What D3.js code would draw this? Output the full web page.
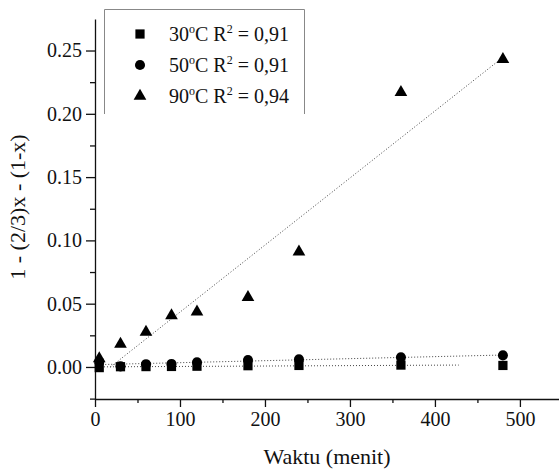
<!DOCTYPE html>
<html><head><meta charset="utf-8">
<script src="https://cdn.jsdelivr.net/npm/d3@7"></script>
<style>body{margin:0;background:#fff}svg{display:block}svg text{font-family:"Liberation Serif","Times New Roman",Times,serif}</style>
</head><body>
<script>
const times = [5, 30, 60, 90, 120, 180, 240, 360, 480];
const s30 = [-0.0005, 0.0002, 0.0003, 0.0004, 0.0006, 0.0010, 0.0012, 0.0015, 0.0012];
const s50 = [0.0040, 0.0005, 0.0022, 0.0024, 0.0037, 0.0055, 0.0060, 0.0076, 0.0092];
const s90 = [0.0066, 0.0180, 0.0275, 0.0406, 0.0435, 0.0550, 0.0910, 0.2170, 0.2430];
const seriesNames = ["30", "50", "90"];
const r2Labels = ["0,91", "0,91", "0,94"];
const fitRanges = [[0, 428], [5, 480], [0, 480]];
const xTicks = [0, 100, 200, 300, 400, 500];
const yTicks = [0.00, 0.05, 0.10, 0.15, 0.20, 0.25];

const W = 559, H = 470;
const svg = d3.select("body").append("svg").attr("width", W).attr("height", H);
const font = "Liberation Serif";

const x = d3.scaleLinear().domain([0, 546]).range([95, 559]);
const y = d3.scaleLinear().domain([-0.0253, 0.2749]).range([399, 19]);

// axes
const xAxis = d3.axisBottom(x).tickValues(xTicks).tickSize(8).tickSizeOuter(0).tickPadding(5).tickFormat(d3.format("d"));
svg.append("g").attr("transform", "translate(0,399)").call(xAxis);
const xMinor = d3.axisBottom(x).tickValues([50,150,250,350,450]).tickSize(4).tickSizeOuter(0).tickFormat("");
svg.append("g").attr("transform", "translate(0,399)").call(xMinor).select(".domain").remove();

const yAxis = d3.axisLeft(y).tickValues(yTicks).tickSize(9).tickSizeOuter(0).tickPadding(4).tickFormat(d3.format(".2f"));
svg.append("g").attr("transform", "translate(95,0)").call(yAxis);
const yMinor = d3.axisLeft(y).tickValues([-0.025,0.025,0.075,0.125,0.175,0.225]).tickSize(5).tickSizeOuter(0).tickFormat("");
svg.append("g").attr("transform", "translate(95,0)").call(yMinor).select(".domain").remove();

svg.selectAll("g").attr("font-family", null);
svg.selectAll(".tick text").style("font-family", font).attr("font-size", 20).attr("fill", "#111");
svg.selectAll(".domain, .tick line").attr("stroke", "#111").attr("stroke-width", 1.3);

// titles
svg.append("text").attr("x", 327).attr("y", 464).attr("text-anchor", "middle")
  .style("font-family", font).attr("font-size", 22).attr("fill", "#111").text("Waktu (menit)");
svg.append("text").attr("transform", "translate(25,207) rotate(-90)").attr("text-anchor", "middle")
  .style("font-family", font).attr("font-size", 22).attr("fill", "#111").text("1 - (2/3)x - (1-x)");

// trend lines (least squares)
const series = [s30, s50, s90];
function fit(ys) {
  const mx = d3.mean(times), my = d3.mean(ys);
  let sxy = 0, sxx = 0;
  times.forEach((t, i) => { sxy += (t - mx) * (ys[i] - my); sxx += (t - mx) ** 2; });
  const b = sxy / sxx; return [b, my - b * mx];
}
series.forEach((ys, k) => {
  const [b, a] = fit(ys);
  let x0 = fitRanges[k][0];
  if (a + b * x0 < 0) x0 = -a / b;
  const x1 = fitRanges[k][1];
  svg.append("line").attr("x1", x(x0)).attr("y1", y(a + b * x0)).attr("x2", x(x1)).attr("y2", y(a + b * x1))
    .attr("stroke", "#444").attr("stroke-width", 1).attr("stroke-dasharray", "1,2");
});

// markers
const sym = [d3.symbolSquare, d3.symbolCircle, d3.symbolTriangle];
const sz = [85, 80, 70];
series.forEach((ys, k) => {
  svg.append("g").selectAll("path").data(ys).join("path")
    .attr("transform", (d, i) => `translate(${x(times[i])},${y(d)})`)
    .attr("d", d3.symbol().type(sym[k]).size(sz[k])).attr("fill", "#000");
});

// legend
const lg = svg.append("g");
lg.append("path").attr("d", "M104.5,114 V9.5 H304.5 V114").attr("fill", "none").attr("stroke", "#888").attr("stroke-width", 1);
seriesNames.forEach((n, k) => {
  const cy = 34 + k * 31;
  lg.append("path").attr("transform", `translate(140,${cy})`).attr("d", d3.symbol().type(sym[k]).size(sz[k])).attr("fill", "#000");
  const t = lg.append("text").attr("x", 169).attr("y", cy + 7).style("font-family", font).attr("font-size", 20).attr("fill", "#111");
  t.append("tspan").text(n);
  t.append("tspan").attr("dy", -8).attr("font-size", 12).text("o");
  t.append("tspan").attr("dy", 8).text("C R");
  t.append("tspan").attr("dy", -8).attr("font-size", 12).text("2");
  t.append("tspan").attr("dy", 8).text(" = " + r2Labels[k]);
});
</script>
</body></html>
